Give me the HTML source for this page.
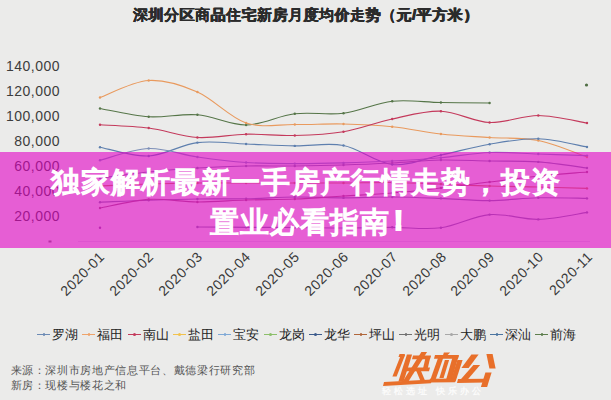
<!DOCTYPE html>
<html><head><meta charset="utf-8">
<style>
*{margin:0;padding:0;box-sizing:border-box}
html,body{width:611px;height:400px;overflow:hidden;background:#ebebea;font-family:"Liberation Sans",sans-serif}
.abs{position:absolute}
.title{position:absolute;left:133px;top:5px;font-size:15.4px;font-weight:bold;color:#2b2b2b;white-space:nowrap;letter-spacing:0.5px;text-shadow:0.4px 0 #2b2b2b,-0.4px 0 #2b2b2b}
.yl{position:absolute;right:551px;font-size:14px;line-height:16px;color:#3d3d3d;letter-spacing:0.5px;white-space:nowrap}
.xl{position:absolute;width:70px;text-align:right;font-size:14px;letter-spacing:0.6px;line-height:14px;color:#383838;transform-origin:100% 50%;transform:rotate(-45deg);white-space:nowrap}
svg{position:absolute;left:0;top:0}
svg path{fill:none;stroke-width:1.15}
.lg{position:absolute;top:327px;font-size:13px;line-height:16px;color:#222;white-space:nowrap}
.lg i{display:inline-block;position:relative;width:13px;height:1.2px;vertical-align:middle;margin-right:2px;top:-1px}
.lg b{position:absolute;left:5.5px;top:-0.8px;width:2.5px;height:2.8px;border-radius:1.5px}
.foot{position:absolute;left:10.5px;font-size:11px;letter-spacing:0.66px;line-height:14px;color:#555;white-space:nowrap}
.banner{position:absolute;left:0;top:152px;width:611px;height:96px;background:rgba(226,0,196,0.6)}
.bt{position:absolute;left:0;width:611px;text-align:center;color:#fff;font-weight:400;font-size:29px;letter-spacing:1px;text-indent:1px;line-height:40px;white-space:nowrap;-webkit-text-stroke:1.5px #fff}
.bt2{position:absolute;left:210px;color:#fff;font-weight:400;font-size:29px;letter-spacing:1px;line-height:40px;white-space:nowrap;-webkit-text-stroke:1.5px #fff}
.bt2 span{font-weight:bold;font-size:27px;margin-left:4px;position:relative;top:-2.5px;-webkit-text-stroke:2px #fff}
.logo{position:absolute;left:383px;top:350px;font-size:33px;line-height:36px;font-weight:900;color:#e8732c;transform:skewX(-12deg);letter-spacing:-1px;white-space:nowrap}
.logosub{position:absolute;left:382px;top:385.5px;font-size:9px;font-weight:bold;line-height:10px;color:#fbfbfb;letter-spacing:3px;white-space:nowrap}
</style></head><body>
<div class="title">深圳分区商品住宅新房月度均价走势（元/平方米）</div>
<div class="yl" style="top:58px">140,000</div><div class="yl" style="top:83px">120,000</div><div class="yl" style="top:108px">100,000</div><div class="yl" style="top:133px">80,000</div><div class="yl" style="top:158px">60,000</div><div class="yl" style="top:183px">40,000</div><div class="yl" style="top:208px">20,000</div>
<svg width="611" height="400" viewBox="0 0 611 400">
<path d="M100.0,108.5 C108.1,109.9 132.5,115.7 148.7,116.8 C164.9,117.8 181.2,113.4 197.4,114.8 C213.6,116.1 229.9,125.2 246.1,125.0 C262.3,124.8 278.6,115.7 294.8,113.8 C311.0,111.8 327.3,115.3 343.5,113.2 C359.7,111.2 376.0,103.0 392.2,101.2 C408.4,99.5 424.7,102.2 440.9,102.5 C457.1,102.8 481.5,102.9 489.6,103.0" stroke="#557548" /><path d="M100.0,97.5 C108.1,94.7 132.5,81.4 148.7,80.5 C164.9,79.6 181.2,84.9 197.4,92.0 C213.6,99.1 229.9,117.6 246.1,123.0 C262.3,128.4 278.6,124.3 294.8,124.5 C311.0,124.7 327.3,123.6 343.5,124.0 C359.7,124.4 376.0,125.1 392.2,126.8 C408.4,128.4 424.7,132.2 440.9,134.0 C457.1,135.8 473.4,136.4 489.6,137.5 C505.8,138.6 522.1,137.2 538.3,140.5 C554.5,143.8 578.9,154.2 587.0,157.0" stroke="#e99a5e" /><path d="M100.0,124.8 C108.1,125.3 132.5,125.9 148.7,128.0 C164.9,130.1 181.2,136.5 197.4,137.5 C213.6,138.5 229.9,134.6 246.1,134.2 C262.3,133.9 278.6,135.9 294.8,135.5 C311.0,135.1 327.3,134.5 343.5,131.8 C359.7,129.0 376.0,122.4 392.2,119.0 C408.4,115.6 424.7,110.7 440.9,111.2 C457.1,111.8 473.4,121.8 489.6,122.5 C505.8,123.2 522.1,115.4 538.3,115.5 C554.5,115.6 578.9,121.8 587.0,123.0" stroke="#c43a5c" /><path d="M100.0,147.2 C108.1,148.7 132.5,156.8 148.7,156.0 C164.9,155.2 181.2,144.6 197.4,142.6 C213.6,140.6 229.9,143.4 246.1,144.0 C262.3,144.6 278.6,145.7 294.8,145.9 C311.0,146.2 327.3,142.4 343.5,145.5 C359.7,148.6 376.0,162.9 392.2,164.5 C408.4,166.1 424.7,158.4 440.9,155.0 C457.1,151.6 473.4,146.9 489.6,144.2 C505.8,141.5 522.1,138.3 538.3,138.8 C554.5,139.2 578.9,145.6 587.0,147.0" stroke="#5e7fae" /><path d="M100.0,160.3 C108.1,158.3 132.5,149.1 148.7,148.5 C164.9,147.9 181.2,154.7 197.4,157.0 C213.6,159.3 229.9,161.4 246.1,162.5 C262.3,163.6 278.6,163.5 294.8,163.6 C311.0,163.7 327.3,163.3 343.5,162.9 C359.7,162.5 376.0,161.9 392.2,161.0 C408.4,160.1 424.7,159.1 440.9,157.7 C457.1,156.3 473.4,153.1 489.6,152.5 C505.8,151.9 522.1,153.5 538.3,154.0 C554.5,154.5 578.9,155.3 587.0,155.6" stroke="#7d8fb8" /><path d="M100.0,178.0 C108.1,177.0 132.5,173.7 148.7,172.0 C164.9,170.3 181.2,169.0 197.4,168.0 C213.6,167.0 229.9,166.3 246.1,166.0 C262.3,165.7 278.6,166.2 294.8,166.0 C311.0,165.8 327.3,165.5 343.5,165.0 C359.7,164.5 376.0,163.8 392.2,163.0 C408.4,162.2 424.7,160.3 440.9,160.0 C457.1,159.7 473.4,160.7 489.6,161.0 C505.8,161.3 522.1,160.7 538.3,161.9 C554.5,163.1 578.9,167.0 587.0,168.0" stroke="#7c7ca0" /><path d="M100.0,186.0 C108.1,185.7 132.5,184.5 148.7,184.0 C164.9,183.5 181.2,183.2 197.4,183.0 C213.6,182.8 229.9,183.0 246.1,183.0 C262.3,183.0 278.6,183.0 294.8,183.0 C311.0,183.0 327.3,183.1 343.5,183.0 C359.7,182.9 376.0,182.3 392.2,182.5 C408.4,182.7 424.7,183.4 440.9,184.0 C457.1,184.6 473.4,185.5 489.6,186.0 C505.8,186.5 522.1,186.6 538.3,187.0 C554.5,187.4 578.9,188.2 587.0,188.4" stroke="#c87850" /><path d="M100.0,202.2 C108.1,201.9 132.5,200.7 148.7,200.2 C164.9,199.7 181.2,199.2 197.4,199.0 C213.6,198.8 229.9,199.1 246.1,198.8 C262.3,198.5 278.6,197.2 294.8,197.0 C311.0,196.8 327.3,197.9 343.5,197.9 C359.7,197.9 376.0,196.9 392.2,197.0 C408.4,197.1 424.7,197.8 440.9,198.4 C457.1,199.0 473.4,200.7 489.6,200.6 C505.8,200.5 522.1,198.2 538.3,197.8 C554.5,197.4 578.9,198.3 587.0,198.4" stroke="#7c7ca0" /><path d="M100.0,208.0 C108.1,206.6 132.5,200.4 148.7,199.4 C164.9,198.4 181.2,201.9 197.4,202.0 C213.6,202.1 229.9,200.5 246.1,200.0 C262.3,199.5 278.6,199.7 294.8,199.0 C311.0,198.3 327.3,197.0 343.5,196.0 C359.7,195.0 376.0,194.3 392.2,193.0 C408.4,191.7 424.7,189.8 440.9,188.0 C457.1,186.2 473.4,184.0 489.6,182.0 C505.8,180.0 522.1,177.7 538.3,176.0 C554.5,174.3 578.9,172.7 587.0,172.0" stroke="#9a6080" /><path d="M197.4,227.0 C205.5,227.1 229.9,227.2 246.1,227.3 C262.3,227.4 278.6,227.4 294.8,227.5 C311.0,227.6 327.3,228.0 343.5,228.0 C359.7,228.0 376.0,227.3 392.2,227.3 C408.4,227.3 424.7,229.9 440.9,227.8 C457.1,225.7 473.4,216.0 489.6,214.6 C505.8,213.2 522.1,219.8 538.3,219.4 C554.5,219.0 578.9,213.6 587.0,212.4" stroke="#7c7ca0" /><path d="M78,241.5 L590,241.5" stroke="#d8d0e0" />
<circle cx="100.0" cy="108.5" r="1.2" fill="#557548"/><circle cx="148.7" cy="116.8" r="1.2" fill="#557548"/><circle cx="197.4" cy="114.8" r="1.2" fill="#557548"/><circle cx="246.1" cy="125.0" r="1.2" fill="#557548"/><circle cx="294.8" cy="113.8" r="1.2" fill="#557548"/><circle cx="343.5" cy="113.2" r="1.2" fill="#557548"/><circle cx="392.2" cy="101.2" r="1.2" fill="#557548"/><circle cx="440.9" cy="102.5" r="1.2" fill="#557548"/><circle cx="489.6" cy="103.0" r="1.2" fill="#557548"/><circle cx="100.0" cy="97.5" r="1.2" fill="#e99a5e"/><circle cx="148.7" cy="80.5" r="1.2" fill="#e99a5e"/><circle cx="197.4" cy="92.0" r="1.2" fill="#e99a5e"/><circle cx="246.1" cy="123.0" r="1.2" fill="#e99a5e"/><circle cx="294.8" cy="124.5" r="1.2" fill="#e99a5e"/><circle cx="343.5" cy="124.0" r="1.2" fill="#e99a5e"/><circle cx="392.2" cy="126.8" r="1.2" fill="#e99a5e"/><circle cx="440.9" cy="134.0" r="1.2" fill="#e99a5e"/><circle cx="489.6" cy="137.5" r="1.2" fill="#e99a5e"/><circle cx="538.3" cy="140.5" r="1.2" fill="#e99a5e"/><circle cx="587.0" cy="157.0" r="1.2" fill="#e99a5e"/><circle cx="100.0" cy="124.8" r="1.2" fill="#c43a5c"/><circle cx="148.7" cy="128.0" r="1.2" fill="#c43a5c"/><circle cx="197.4" cy="137.5" r="1.2" fill="#c43a5c"/><circle cx="246.1" cy="134.2" r="1.2" fill="#c43a5c"/><circle cx="294.8" cy="135.5" r="1.2" fill="#c43a5c"/><circle cx="343.5" cy="131.8" r="1.2" fill="#c43a5c"/><circle cx="392.2" cy="119.0" r="1.2" fill="#c43a5c"/><circle cx="440.9" cy="111.2" r="1.2" fill="#c43a5c"/><circle cx="489.6" cy="122.5" r="1.2" fill="#c43a5c"/><circle cx="538.3" cy="115.5" r="1.2" fill="#c43a5c"/><circle cx="587.0" cy="123.0" r="1.2" fill="#c43a5c"/><circle cx="100.0" cy="147.2" r="1.2" fill="#5e7fae"/><circle cx="148.7" cy="156.0" r="1.2" fill="#5e7fae"/><circle cx="197.4" cy="142.6" r="1.2" fill="#5e7fae"/><circle cx="246.1" cy="144.0" r="1.2" fill="#5e7fae"/><circle cx="294.8" cy="145.9" r="1.2" fill="#5e7fae"/><circle cx="343.5" cy="145.5" r="1.2" fill="#5e7fae"/><circle cx="392.2" cy="164.5" r="1.2" fill="#5e7fae"/><circle cx="440.9" cy="155.0" r="1.2" fill="#5e7fae"/><circle cx="489.6" cy="144.2" r="1.2" fill="#5e7fae"/><circle cx="538.3" cy="138.8" r="1.2" fill="#5e7fae"/><circle cx="587.0" cy="147.0" r="1.2" fill="#5e7fae"/><circle cx="100.0" cy="160.3" r="1.2" fill="#7d8fb8"/><circle cx="148.7" cy="148.5" r="1.2" fill="#7d8fb8"/><circle cx="197.4" cy="157.0" r="1.2" fill="#7d8fb8"/><circle cx="246.1" cy="162.5" r="1.2" fill="#7d8fb8"/><circle cx="294.8" cy="163.6" r="1.2" fill="#7d8fb8"/><circle cx="343.5" cy="162.9" r="1.2" fill="#7d8fb8"/><circle cx="392.2" cy="161.0" r="1.2" fill="#7d8fb8"/><circle cx="440.9" cy="157.7" r="1.2" fill="#7d8fb8"/><circle cx="489.6" cy="152.5" r="1.2" fill="#7d8fb8"/><circle cx="538.3" cy="154.0" r="1.2" fill="#7d8fb8"/><circle cx="587.0" cy="155.6" r="1.2" fill="#7d8fb8"/><circle cx="100.0" cy="178.0" r="1.2" fill="#7c7ca0"/><circle cx="148.7" cy="172.0" r="1.2" fill="#7c7ca0"/><circle cx="197.4" cy="168.0" r="1.2" fill="#7c7ca0"/><circle cx="246.1" cy="166.0" r="1.2" fill="#7c7ca0"/><circle cx="294.8" cy="166.0" r="1.2" fill="#7c7ca0"/><circle cx="343.5" cy="165.0" r="1.2" fill="#7c7ca0"/><circle cx="392.2" cy="163.0" r="1.2" fill="#7c7ca0"/><circle cx="440.9" cy="160.0" r="1.2" fill="#7c7ca0"/><circle cx="489.6" cy="161.0" r="1.2" fill="#7c7ca0"/><circle cx="538.3" cy="161.9" r="1.2" fill="#7c7ca0"/><circle cx="587.0" cy="168.0" r="1.2" fill="#7c7ca0"/><circle cx="100.0" cy="186.0" r="1.2" fill="#c87850"/><circle cx="148.7" cy="184.0" r="1.2" fill="#c87850"/><circle cx="197.4" cy="183.0" r="1.2" fill="#c87850"/><circle cx="246.1" cy="183.0" r="1.2" fill="#c87850"/><circle cx="294.8" cy="183.0" r="1.2" fill="#c87850"/><circle cx="343.5" cy="183.0" r="1.2" fill="#c87850"/><circle cx="392.2" cy="182.5" r="1.2" fill="#c87850"/><circle cx="440.9" cy="184.0" r="1.2" fill="#c87850"/><circle cx="489.6" cy="186.0" r="1.2" fill="#c87850"/><circle cx="538.3" cy="187.0" r="1.2" fill="#c87850"/><circle cx="587.0" cy="188.4" r="1.2" fill="#c87850"/><circle cx="100.0" cy="202.2" r="1.2" fill="#7c7ca0"/><circle cx="148.7" cy="200.2" r="1.2" fill="#7c7ca0"/><circle cx="197.4" cy="199.0" r="1.2" fill="#7c7ca0"/><circle cx="246.1" cy="198.8" r="1.2" fill="#7c7ca0"/><circle cx="294.8" cy="197.0" r="1.2" fill="#7c7ca0"/><circle cx="343.5" cy="197.9" r="1.2" fill="#7c7ca0"/><circle cx="392.2" cy="197.0" r="1.2" fill="#7c7ca0"/><circle cx="440.9" cy="198.4" r="1.2" fill="#7c7ca0"/><circle cx="489.6" cy="200.6" r="1.2" fill="#7c7ca0"/><circle cx="538.3" cy="197.8" r="1.2" fill="#7c7ca0"/><circle cx="587.0" cy="198.4" r="1.2" fill="#7c7ca0"/><circle cx="100.0" cy="208.0" r="1.2" fill="#9a6080"/><circle cx="148.7" cy="199.4" r="1.2" fill="#9a6080"/><circle cx="197.4" cy="202.0" r="1.2" fill="#9a6080"/><circle cx="246.1" cy="200.0" r="1.2" fill="#9a6080"/><circle cx="294.8" cy="199.0" r="1.2" fill="#9a6080"/><circle cx="343.5" cy="196.0" r="1.2" fill="#9a6080"/><circle cx="392.2" cy="193.0" r="1.2" fill="#9a6080"/><circle cx="440.9" cy="188.0" r="1.2" fill="#9a6080"/><circle cx="489.6" cy="182.0" r="1.2" fill="#9a6080"/><circle cx="538.3" cy="176.0" r="1.2" fill="#9a6080"/><circle cx="587.0" cy="172.0" r="1.2" fill="#9a6080"/><circle cx="197.4" cy="227.0" r="1.2" fill="#7c7ca0"/><circle cx="246.1" cy="227.3" r="1.2" fill="#7c7ca0"/><circle cx="294.8" cy="227.5" r="1.2" fill="#7c7ca0"/><circle cx="343.5" cy="228.0" r="1.2" fill="#7c7ca0"/><circle cx="392.2" cy="227.3" r="1.2" fill="#7c7ca0"/><circle cx="440.9" cy="227.8" r="1.2" fill="#7c7ca0"/><circle cx="489.6" cy="214.6" r="1.2" fill="#7c7ca0"/><circle cx="538.3" cy="219.4" r="1.2" fill="#7c7ca0"/><circle cx="587.0" cy="212.4" r="1.2" fill="#7c7ca0"/><circle cx="586.5" cy="85" r="1.6" fill="#4f6e44"/><rect x="48.5" y="240.5" width="3" height="2" fill="#777"/><circle cx="100" cy="227.7" r="1.2" fill="#8a5a9a"/>
</svg>
<div class="xl" style="left:32.0px;top:246.5px">2020-01</div><div class="xl" style="left:80.8px;top:246.5px">2020-02</div><div class="xl" style="left:129.6px;top:246.5px">2020-03</div><div class="xl" style="left:178.4px;top:246.5px">2020-04</div><div class="xl" style="left:227.2px;top:246.5px">2020-05</div><div class="xl" style="left:276.0px;top:246.5px">2020-06</div><div class="xl" style="left:324.8px;top:246.5px">2020-07</div><div class="xl" style="left:373.6px;top:246.5px">2020-08</div><div class="xl" style="left:422.4px;top:246.5px">2020-09</div><div class="xl" style="left:471.2px;top:246.5px">2020-10</div><div class="xl" style="left:520.0px;top:246.5px">2020-11</div>
<div class="lg" style="left:37.0px"><i style="background:#6d8bb5"><b style="background:#6d8bb5"></b></i>罗湖</div><div class="lg" style="left:82.3px"><i style="background:#efa36a"><b style="background:#efa36a"></b></i>福田</div><div class="lg" style="left:127.6px"><i style="background:#c43a5c"><b style="background:#c43a5c"></b></i>南山</div><div class="lg" style="left:172.9px"><i style="background:#f2c24c"><b style="background:#f2c24c"></b></i>盐田</div><div class="lg" style="left:218.2px"><i style="background:#7fa9d6"><b style="background:#7fa9d6"></b></i>宝安</div><div class="lg" style="left:263.5px"><i style="background:#8cbf6a"><b style="background:#8cbf6a"></b></i>龙岗</div><div class="lg" style="left:308.8px"><i style="background:#3c5b8c"><b style="background:#3c5b8c"></b></i>龙华</div><div class="lg" style="left:354.1px"><i style="background:#b0663a"><b style="background:#b0663a"></b></i>坪山</div><div class="lg" style="left:399.4px"><i style="background:#707070"><b style="background:#707070"></b></i>光明</div><div class="lg" style="left:444.7px"><i style="background:#a8a8a8"><b style="background:#a8a8a8"></b></i>大鹏</div><div class="lg" style="left:490.0px"><i style="background:#4a74a0"><b style="background:#4a74a0"></b></i>深汕</div><div class="lg" style="left:535.3px"><i style="background:#5d7e4d"><b style="background:#5d7e4d"></b></i>前海</div>
<div class="foot" style="top:363px">来源：深圳市房地产信息平台、戴德梁行研究部</div>
<div class="foot" style="top:378px">新房：现楼与楼花之和</div>
<svg width="611" height="400" viewBox="0 0 611 400" style="position:absolute;left:0;top:0">
<g fill="#e86f2a">
<polygon points="399.5,354.1 405.0,354.1 404,357.1 398.5,357.1"/>
<polygon points="400.9,355 405.1,355 396.6,376.5 392.4,376.5"/>
<polygon points="406.9,354.5 412.1,354.5 403.6,381.5 398.4,381.5"/>
<polygon points="384,382.1 432,379.40000000000003 431,383.20000000000005 383,385.90000000000003"/>
<polygon points="413.0,355.6 431.0,355.6 430,359.20000000000005 412,359.20000000000005"/>
<polygon points="425.9,356 430.6,356 427.6,369 422.9,369"/>
<polygon points="406.0,367.6 430.0,367.6 429,371.20000000000005 405,371.20000000000005"/>
<polygon points="421.4,352 427.1,352 408.1,382 402.4,382"/>
<polygon points="415.9,370 420.6,370 425.6,382 420.9,382"/>
<polygon points="443.9,352.5 450.1,352.5 447.1,355.5 442.9,355.5"/>
<polygon points="435.0,355.1 459.0,355.1 458,358.70000000000005 434,358.70000000000005"/>
<polygon points="452.9,356 458.6,356 451.1,382 445.4,382"/>
<polygon points="438.4,357 443.6,357 435.6,379.5 430.4,379.5"/>
<polygon points="444.9,360 449.1,360 443.6,378 439.4,378"/>
<polygon points="457.4,360 462.6,360 455.6,381.5 450.4,381.5"/>
<polygon points="430.0,378.8 456.0,378.40000000000003 455,382.20000000000005 429,382.6"/>
<polygon points="471.4,354.5 478.6,354.5 468.6,368 461.4,368"/>
<polygon points="473.4,365 480.1,365 465.6,382 458.4,382"/>
<polygon points="458.0,379.1 486.0,378.8 485,382.6 457,382.90000000000003"/>
<polygon points="486.4,354 492.6,354 495.6,368.5 489.4,368.5"/>
<polygon points="485.4,372.5 491.6,372.5 487.1,387 480.9,387"/>
</g></svg>
<div class="logosub">轻松选址 快乐办公</div>
<div class="banner">
<div class="bt" style="top:10px">独家解析最新一手房产行情走势，投资</div>
<div class="bt2" style="top:50px">置业必看指南<span>!</span></div>
</div>
</body></html>
